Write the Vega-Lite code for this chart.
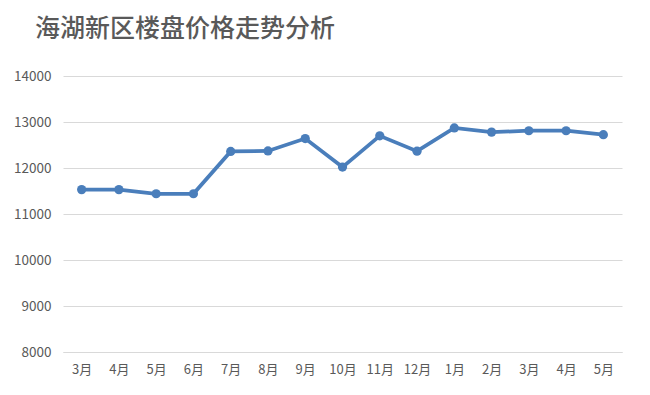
{
  "$schema": "https://vega.github.io/schema/vega-lite/v6.json",
  "autosize": "none",
  "width": 559,
  "height": 276,
  "padding": {"left": 63, "top": 76, "right": 28, "bottom": 43},
  "background": "white",
  "title": {
    "text": "海湖新区楼盘价格走势分析",
    "anchor": "start",
    "frame": "group",
    "dx": -28,
    "offset": 2,
    "baseline": "bottom",
    "font": "Noto Sans CJK SC",
    "fontSize": 25,
    "fontWeight": 500,
    "color": "#595959"
  },
  "data": {
    "values": [
      {"key": "2018年3月", "price": 11530},
      {"key": "2018年4月", "price": 11530},
      {"key": "2018年5月", "price": 11440},
      {"key": "2018年6月", "price": 11440},
      {"key": "2018年7月", "price": 12360},
      {"key": "2018年8月", "price": 12370},
      {"key": "2018年9月", "price": 12640},
      {"key": "2018年10月", "price": 12020},
      {"key": "2018年11月", "price": 12700},
      {"key": "2018年12月", "price": 12365},
      {"key": "2019年1月", "price": 12870},
      {"key": "2019年2月", "price": 12780},
      {"key": "2019年3月", "price": 12810},
      {"key": "2019年4月", "price": 12810},
      {"key": "2019年5月", "price": 12725}
    ]
  },
  "mark": {
    "type": "line",
    "color": "#4a7ebb",
    "strokeWidth": 3.75,
    "point": {"filled": true, "size": 85, "color": "#4a7ebb"}
  },
  "encoding": {
    "x": {
      "field": "key",
      "type": "ordinal",
      "sort": null,
      "scale": {"type": "point", "padding": 0.5},
      "axis": {
        "title": null,
        "labelAngle": 0,
        "labelExpr": "split(datum.value, '年')[1]",
        "labelFont": "Noto Sans CJK SC",
        "labelFontSize": 13,
        "labelColor": "#595959",
        "labelPadding": 11,
        "ticks": false,
        "domainColor": "#d9d9d9",
        "domainWidth": 1,
        "grid": false
      }
    },
    "y": {
      "field": "price",
      "type": "quantitative",
      "scale": {"domain": [8000, 14000], "nice": false, "zero": false},
      "axis": {
        "title": null,
        "values": [8000, 9000, 10000, 11000, 12000, 13000, 14000],
        "format": "d",
        "labelFont": "Noto Sans CJK SC",
        "labelFontSize": 13.5,
        "labelColor": "#595959",
        "labelPadding": 12,
        "ticks": false,
        "domain": false,
        "grid": true,
        "gridColor": "#d9d9d9",
        "gridWidth": 1
      }
    }
  },
  "config": {"view": {"stroke": null}}
}
